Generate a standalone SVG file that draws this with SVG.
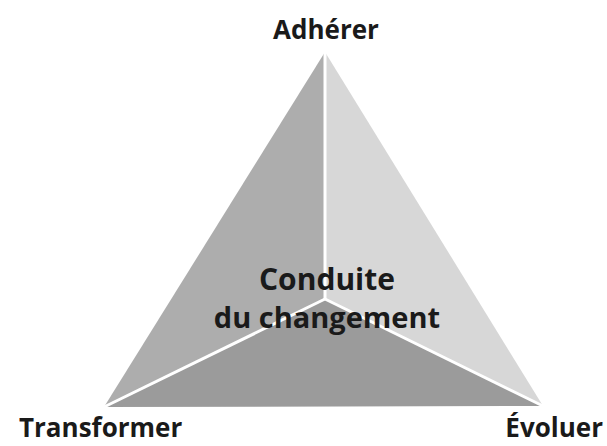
<svg xmlns="http://www.w3.org/2000/svg" width="607" height="446" viewBox="0 0 607 446">
<style>
.lbl{font-family:"Open Sans","Noto Sans",sans-serif;font-weight:700;fill:#1a1a1a;}
.sep{stroke:#ffffff;stroke-width:3;fill:none;}
</style>
<rect width="607" height="446" fill="#ffffff"/>
<g id="triangle">
<polygon points="325,52 104,407 325,299" fill="#adadad"/>
<polygon points="325,52 543,406 325,299" fill="#d7d7d7"/>
<polygon points="104,407 543,406 325,299" fill="#9b9b9b"/>
</g>
<g id="connectors">
<line class="sep" x1="325" y1="52" x2="325" y2="299"/>
<line class="sep" x1="104" y1="407" x2="325" y2="299"/>
<line class="sep" x1="543" y1="406" x2="325" y2="299"/>
</g>
<g id="center"><text class="lbl" x="327" y="290" font-size="30" text-anchor="middle">Conduite</text>
<text class="lbl" x="327" y="328" font-size="29" text-anchor="middle">du changement</text></g>
<g id="adherer"><text class="lbl" x="326" y="39" font-size="26" text-anchor="middle">Adhérer</text></g>
<g id="transformer"><text class="lbl" x="19" y="437" font-size="26">Transformer</text></g>
<g id="evoluer"><text class="lbl" x="603" y="437" font-size="26" text-anchor="end">Évoluer</text></g>
</svg>
